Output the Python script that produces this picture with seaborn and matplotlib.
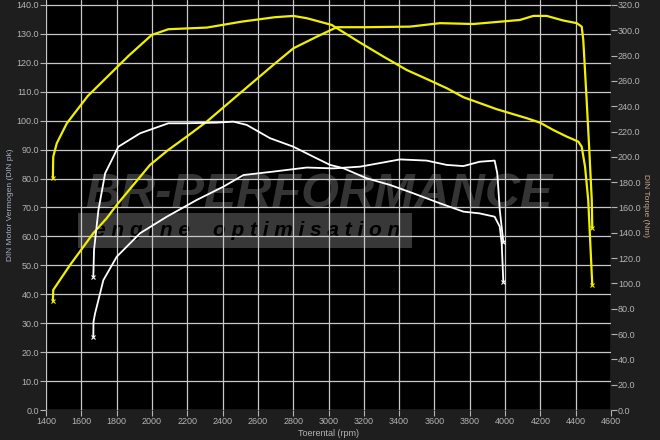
import pandas as pd
import matplotlib.pyplot as plt
import seaborn as sns
from matplotlib.patches import Rectangle

sns.set_style("dark")
plt.rcParams["font.family"] = ["Liberation Sans", "DejaVu Sans"]

# tuned (yellow) power, DIN pk
tuned_pwr_rpm = [1439, 1441, 1536, 1668, 1744, 1801, 1989, 2093, 2197, 2311, 2499, 2688, 2801,
                 2933, 3047, 3217, 3462, 3632, 3820, 3971, 4084, 4160, 4236, 4330, 4406, 4434,
                 4443, 4462, 4477, 4491, 4494]
tuned_pwr = [37.7, 41.5, 50.1, 61.1, 66.3, 70.9, 84.7, 89.9, 94.5, 99.7, 109.5, 119.3, 125.0,
             129.0, 132.3, 132.3, 132.5, 133.7, 133.4, 134.2, 134.8, 136.2, 136.2, 134.6, 133.7,
             132.5, 127.9, 107.2, 89.9, 72.6, 62.9]

# tuned (yellow) torque, Nm
tuned_trq_rpm = [1439, 1441, 1461, 1518, 1637, 1867, 1999, 2093, 2311, 2509, 2697, 2801, 2877,
                 3018, 3179, 3311, 3443, 3556, 3670, 3764, 3953, 4123, 4198, 4273, 4349, 4415,
                 4434, 4453, 4471, 4494]
tuned_trq = [183.1, 200.1, 210.7, 226.5, 248.1, 279.7, 296.3, 300.8, 302.1, 306.8, 310.3, 311.3,
             309.5, 304.2, 290.2, 279.2, 268.6, 261.5, 254.2, 247.1, 237.6, 230.5, 227.0, 221.2,
             216.0, 212.0, 208.0, 192.2, 165.9, 98.8]

# stock (white) power
stock_pwr_rpm = [1668, 1669, 1678, 1725, 1801, 1933, 2084, 2254, 2405, 2518, 2688, 2877, 3027,
                 3179, 3405, 3556, 3670, 3764, 3856, 3941, 3956, 3970, 3990]
stock_pwr = [25.3, 30.5, 33.4, 44.9, 53.0, 61.1, 66.8, 72.6, 77.2, 81.2, 82.4, 83.8, 83.5,
             84.1, 86.6, 86.2, 84.7, 84.3, 85.8, 86.2, 81.8, 69.1, 58.2]

# stock (white) torque
stock_trq_rpm = [1668, 1672, 1697, 1735, 1810, 1933, 2093, 2197, 2367, 2461, 2537, 2669, 2801,
                 2914, 3009, 3084, 3217, 3348, 3480, 3631, 3764, 3856, 3941, 3970, 3981, 3990]
stock_trq = [105.3, 126.4, 158.0, 187.0, 208.0, 218.6, 226.5, 226.5, 227.0, 227.8, 225.2, 214.7,
             208.0, 200.1, 193.6, 191.0, 183.0, 177.8, 171.2, 163.3, 156.7, 155.3, 152.7, 144.8,
             131.7, 101.4]

pwr_ticks = list(range(0, 141, 10))
trq_ticks = list(range(0, 321, 20))
rpm_ticks = list(range(1400, 4601, 200))

tuned_pwr_df = pd.DataFrame({"rpm": tuned_pwr_rpm, "val": tuned_pwr})
tuned_trq_df = pd.DataFrame({"rpm": tuned_trq_rpm, "val": tuned_trq})
stock_pwr_df = pd.DataFrame({"rpm": stock_pwr_rpm, "val": stock_pwr})
stock_trq_df = pd.DataFrame({"rpm": stock_trq_rpm, "val": stock_trq})

bg = "#1e1e1e"
txt = "#b4b4b4"
fig = plt.figure(figsize=(6.6, 4.4), dpi=100, facecolor=bg)
ax = fig.add_axes([46 / 660, 30 / 440, 565 / 660, 410 / 440])
ax.set_facecolor("black")
ax2 = ax.twinx()

# watermark
ax.text(0.07, 0.525, "BR-PERFORMANCE", transform=ax.transAxes, fontsize=35, fontweight="heavy",
        fontstyle="italic", color="#343434", zorder=0.5, va="center", ha="left")
ax.add_patch(Rectangle((0.057, 0.395), 0.59, 0.085, transform=ax.transAxes,
                       facecolor="#383838", edgecolor="none", zorder=0.4))
ax.text(0.085, 0.437, "e n g i n e    o p t i m i s a t i o n", transform=ax.transAxes,
        fontsize=15, fontweight="bold", fontstyle="italic", color="black", zorder=0.6,
        va="center", ha="left")

sns.lineplot(data=tuned_pwr_df, x="rpm", y="val", sort=False, estimator=None, ax=ax,
             color="#f0f000", linewidth=1.6, zorder=3)
sns.lineplot(data=stock_pwr_df, x="rpm", y="val", sort=False, estimator=None, ax=ax,
             color="white", linewidth=1.3, zorder=3)
sns.lineplot(data=tuned_trq_df, x="rpm", y="val", sort=False, estimator=None, ax=ax2,
             color="#f0f000", linewidth=1.6, zorder=3)
sns.lineplot(data=stock_trq_df, x="rpm", y="val", sort=False, estimator=None, ax=ax2,
             color="white", linewidth=1.3, zorder=3)

# end markers
for a, r, v, c in [(ax, tuned_pwr_rpm, tuned_pwr, "#f0f000"), (ax, stock_pwr_rpm, stock_pwr, "white"),
                   (ax2, tuned_trq_rpm, tuned_trq, "#f0f000"), (ax2, stock_trq_rpm, stock_trq, "white")]:
    a.plot([r[0], r[-1]], [v[0], v[-1]], "x", color=c, markersize=3, mew=0.8, zorder=4)

ymax = 141.7
ax.set_xlim(1400, 4600)
ax.set_ylim(0, ymax)
ax2.set_ylim(0, ymax * 320 / 140)
ax.set_xticks(rpm_ticks)
ax.set_yticks(pwr_ticks)
ax.set_yticklabels([f"{t:.1f}" for t in pwr_ticks])
ax2.set_yticks(trq_ticks)
ax2.set_yticklabels([f"{t:.1f}" for t in trq_ticks])

ax.grid(True, color="#c8c8c8", linewidth=0.9, zorder=1)
ax.set_axisbelow(False)
for l in ax.get_xgridlines() + ax.get_ygridlines():
    l.set_zorder(1)
ax2.grid(False)

for a in (ax, ax2):
    for s in a.spines.values():
        s.set_visible(False)
    a.tick_params(colors=txt, labelsize=6.5, length=4, width=0.8, direction="out", pad=1)
ax.tick_params(axis="both", left=True, bottom=True)
ax2.tick_params(axis="y", right=True)

ax.set_xlabel("Toerental (rpm)", color=txt, fontsize=6.5, labelpad=2)
ax.set_ylabel("DIN Motor Vermogen (DIN pk)", color="#a8b0c8", fontsize=6, labelpad=2)
ax2.set_ylabel("DIN Torque (Nm)", color="#c8a890", fontsize=6, rotation=270, labelpad=6)

fig.savefig("out.png", dpi=100, facecolor=bg)
